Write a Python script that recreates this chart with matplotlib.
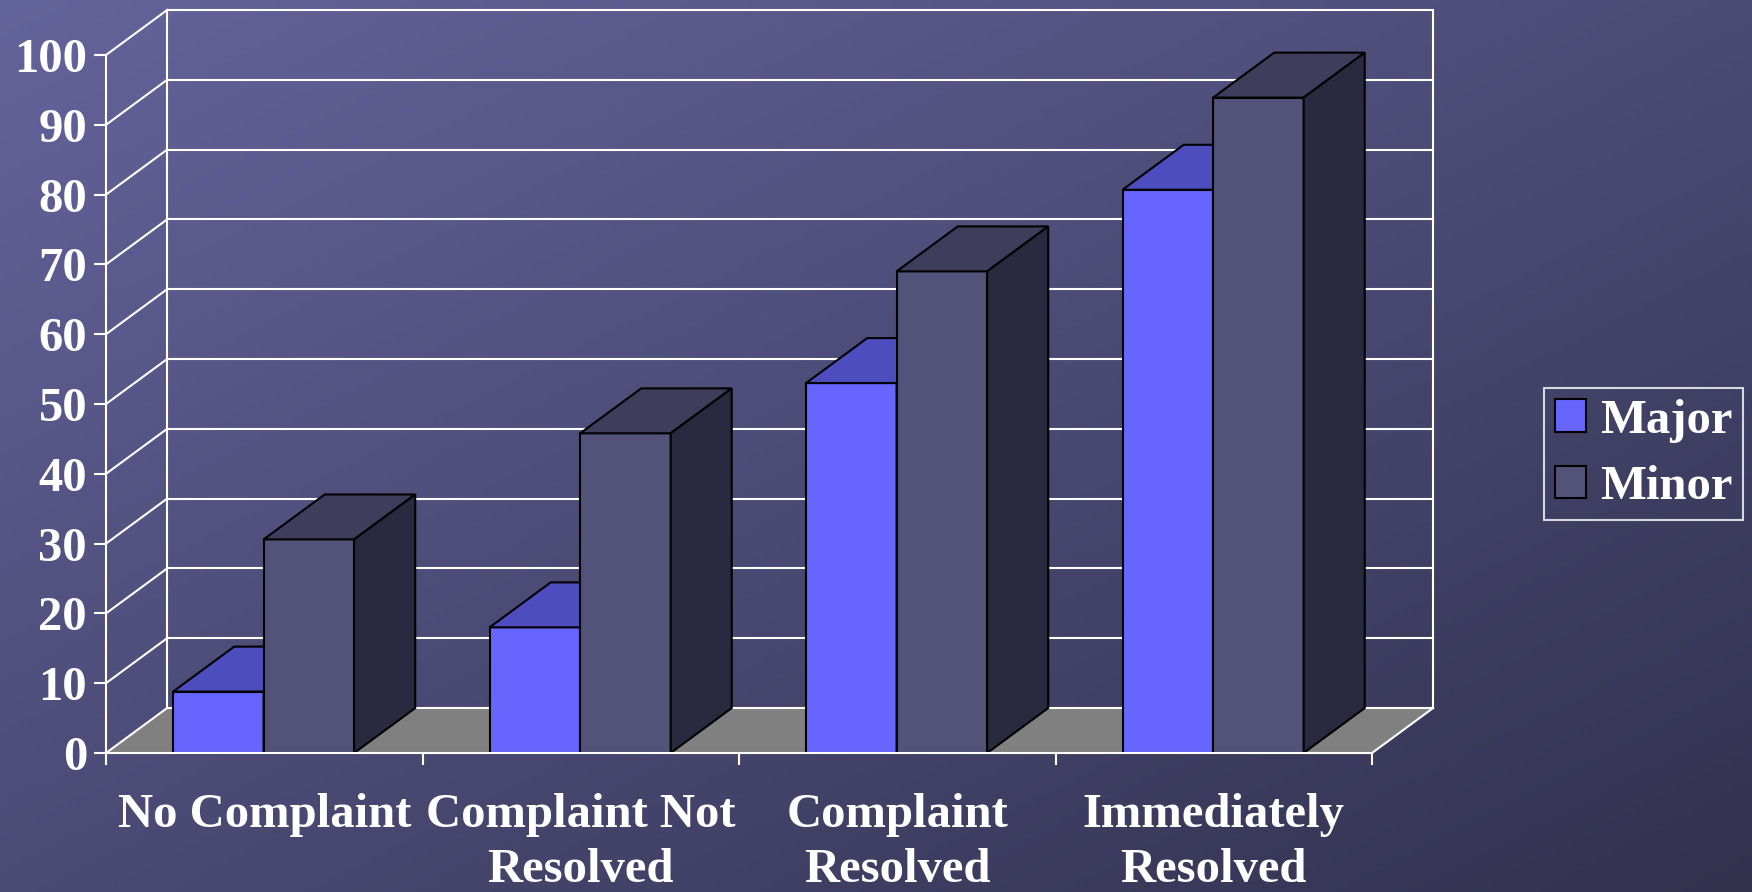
import numpy as np
import matplotlib

matplotlib.use("Agg")
import matplotlib.pyplot as plt  # noqa: E402
from matplotlib.patches import Patch, Polygon  # noqa: E402

CATEGORIES = ["No Complaint", "Complaint Not\nResolved",
              "Complaint\nResolved", "Immediately\nResolved"]
SERIES = ["Major", "Minor"]
MAJOR = [8.8, 18.0, 53.0, 80.7]
MINOR = [30.6, 45.8, 69.0, 93.9]
YTICKS = list(range(0, 101, 10))

W, H, DPI = 1752, 892, 100
INK = "white"
FLOOR = "#808080"
# front, top, side
MAJOR_C = ("#6666ff", "#4d4dc0", "#33337f")
MINOR_C = ("#535279", "#3e3d5b", "#292a3f")
BG_TL, BG_BR = np.array([100, 100, 156]), np.array([50, 49, 78])

DX, DY = 0.193, 6.44        # depth of the box, in data units
BAR_OFF, BAR_W = 0.212, 0.286
FS = 35

plt.rcParams["font.family"] = ["Liberation Serif", "DejaVu Serif"]
plt.rcParams["font.weight"] = "bold"


def box(ax, x0, w, h, colors):
    front, top, side = colors
    faces = [
        ([(x0, 0), (x0 + w, 0), (x0 + w, h), (x0, h)], front),
        ([(x0, h), (x0 + w, h), (x0 + w + DX, h + DY), (x0 + DX, h + DY)], top),
        ([(x0 + w, 0), (x0 + w + DX, DY), (x0 + w + DX, h + DY), (x0 + w, h)], side),
    ]
    for pts, c in faces:
        ax.add_patch(Polygon(pts, closed=True, facecolor=c, edgecolor="black",
                             lw=1.5, joinstyle="miter", clip_on=False, zorder=2))


def main():
    fig = plt.figure(figsize=(W / DPI, H / DPI), dpi=DPI)

    # diagonal background shading
    bg = fig.add_axes([0, 0, 1, 1], zorder=-1)
    yy, xx = np.mgrid[0:1:200j, 0:1:400j]
    t = ((xx + yy) / 2)[..., None]
    grad = (BG_TL * (1 - t) + BG_BR * t) / 255
    bg.imshow(grad, aspect="auto", extent=(0, 1, 0, 1), origin="upper")
    bg.axis("off")

    ax = fig.add_axes([106 / W, (H - 753) / H, (1372 - 106) / W, (753 - 55) / H])
    ax.set_facecolor("none")
    n = len(CATEGORIES)
    ax.set_xlim(0, n)
    ax.set_ylim(0, 100)

    # back wall, floor and receding grid
    for v in YTICKS:
        ax.plot([DX, n + DX], [v + DY, v + DY], color=INK, lw=1.5,
                clip_on=False, zorder=1)
        ax.plot([0, DX], [v, v + DY], color=INK, lw=1.5, clip_on=False, zorder=1)
    for xe in (DX, n + DX):
        ax.plot([xe, xe], [DY, 100 + DY], color=INK, lw=1.5, clip_on=False, zorder=1)
    ax.add_patch(Polygon([(0, 0), (n, 0), (n + DX, DY), (DX, DY)], closed=True,
                         facecolor=FLOOR, edgecolor="none", clip_on=False, zorder=0.9))
    ax.plot([n, n + DX], [0, DY], color=INK, lw=1.5, clip_on=False, zorder=1)

    for i in range(n):
        x0 = i + BAR_OFF
        box(ax, x0, BAR_W, MAJOR[i], MAJOR_C)
        box(ax, x0 + BAR_W, BAR_W, MINOR[i], MINOR_C)

    for side in ("top", "right"):
        ax.spines[side].set_visible(False)
    for side in ("left", "bottom"):
        ax.spines[side].set_color(INK)
        ax.spines[side].set_linewidth(1.5)
        ax.spines[side].set_zorder(3)

    ax.set_yticks(YTICKS)
    ax.tick_params(axis="y", length=8.6, width=1.5, color=INK, labelcolor=INK,
                   labelsize=FS, pad=5)
    ax.set_xticks(range(n + 1))
    ax.set_xticklabels([])
    ax.tick_params(axis="x", which="major", length=8.6, width=1.5, color=INK)
    ax.set_xticks([i + 0.5 for i in range(n)], CATEGORIES, minor=True,
                  linespacing=1.32)
    ax.tick_params(axis="x", which="minor", length=0, labelcolor=INK,
                   labelsize=FS, pad=29)

    handles = [Patch(facecolor=MAJOR_C[0], edgecolor="black", lw=1.5),
               Patch(facecolor=MINOR_C[0], edgecolor="black", lw=1.5)]
    leg = fig.legend(handles, SERIES, loc="upper left",
                     bbox_to_anchor=(1544 / W, 1 - 388 / H), borderaxespad=0,
                     frameon=True, fancybox=False, edgecolor=INK, facecolor="none",
                     fontsize=FS, labelcolor=INK, handlelength=0.65,
                     handleheight=0.65, borderpad=0.22, labelspacing=0.46,
                     handletextpad=0.28)
    leg.get_frame().set_linewidth(1.5)

    fig.savefig("out.png", dpi=DPI)


if __name__ == "__main__":
    main()
